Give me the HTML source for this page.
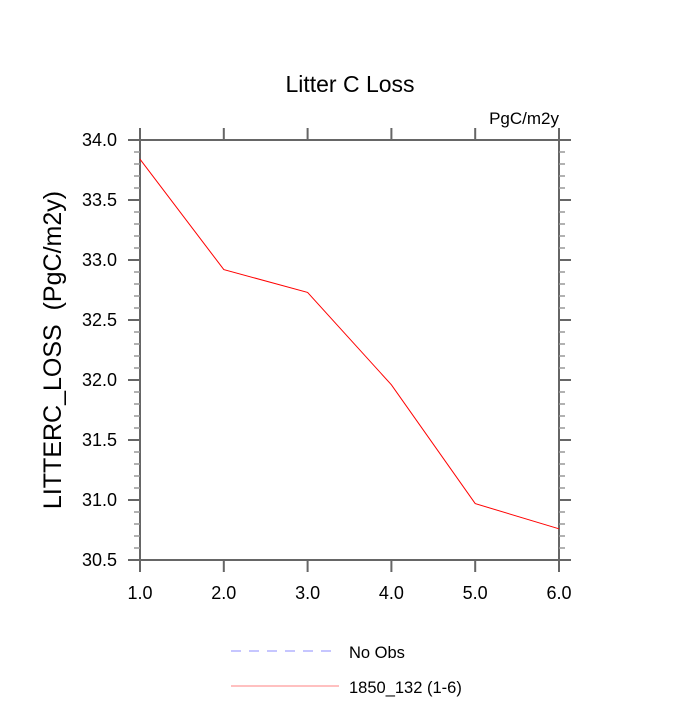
<!DOCTYPE html>
<html><head><meta charset="utf-8"><style>
body{margin:0;background:#fff;}
svg text{font-family:"Liberation Sans",Arial,sans-serif;fill:#000;}
</style></head><body>
<svg id="chart" width="700" height="700" viewBox="0 0 700 700">
<text x="350" y="92" font-size="23" text-anchor="middle">Litter C Loss</text>
<text x="559" y="124" font-size="17" text-anchor="end">PgC/m2y</text>
<text transform="translate(61,350) rotate(-90)" font-size="25" text-anchor="middle" style="white-space:pre">LITTERC_LOSS  (PgC/m2y)</text>
<g id="axes"></g>
<g id="series"></g>
<g>
<line x1="231" y1="651" x2="339" y2="651" stroke="#8c8cff" stroke-width="1" stroke-dasharray="10,8"/>
<text x="349" y="658" font-size="16.5">No Obs</text>
<line x1="231" y1="686" x2="339" y2="686" stroke="#ff8080" stroke-width="1"/>
<text x="349" y="693" font-size="16.5">1850_132 (1-6)</text>
</g>
</svg>
<script>
const categories=[1,2,3,4,5,6];
const values=[33.84,32.92,32.73,31.96,30.97,30.76];
const xTicks=["1.0","2.0","3.0","4.0","5.0","6.0"];
const yTicks=["30.5","31.0","31.5","32.0","32.5","33.0","33.5","34.0"];
const L=140,R=559,T=140,B=560,ymin=30.5,ymax=34,xmin=1,xmax=6;
const NS="http://www.w3.org/2000/svg";
const xs=v=>L+(v-xmin)/(xmax-xmin)*(R-L);
const ys=v=>B-(v-ymin)/(ymax-ymin)*(B-T);
function mk(t,a,p){const e=document.createElementNS(NS,t);for(const k in a)e.setAttribute(k,a[k]);p.appendChild(e);return e;}
const ax=document.getElementById('axes');
const col="#666";
const frame=mk('rect',{x:L,y:T,width:R-L,height:B-T,fill:'none',stroke:col,'stroke-width':2},ax);


for(let i=0;i<=35;i++){
  const v=ymin+i*0.1;const y=ys(v);const major=i%5===0;const len=major?12:6;
  const c=major?col:"#999";
  const t1=mk('line',{x1:L-len,y1:y,x2:L,y2:y,stroke:c,'stroke-width':major?2:1.5},ax);
  
  
  const t2=mk('line',{x1:R,y1:y,x2:R+len,y2:y,stroke:c,'stroke-width':major?2:1.5},ax);
  
  
}
yTicks.forEach(s=>{
  const tx=mk('text',{x:117,y:ys(parseFloat(s))+6,'font-size':18,'text-anchor':'end'},ax);tx.textContent=s;
  
  
});
xTicks.forEach(s=>{
  const x=xs(parseFloat(s));
  const a=mk('line',{x1:x,y1:T-12,x2:x,y2:T,stroke:col,'stroke-width':2},ax);
  
  
  const b=mk('line',{x1:x,y1:B,x2:x,y2:B+12,stroke:col,'stroke-width':2},ax);
  
  
  const tx=mk('text',{x:x,y:599,'font-size':18,'text-anchor':'middle'},ax);tx.textContent=s;
  
  
});
const pts=categories.map((c,i)=>xs(c)+','+ys(values[i])).join(' ');
const pl=mk('polyline',{points:pts,fill:'none',stroke:'#ff0000','stroke-width':1},document.getElementById('series'));


</script>
</body></html>
